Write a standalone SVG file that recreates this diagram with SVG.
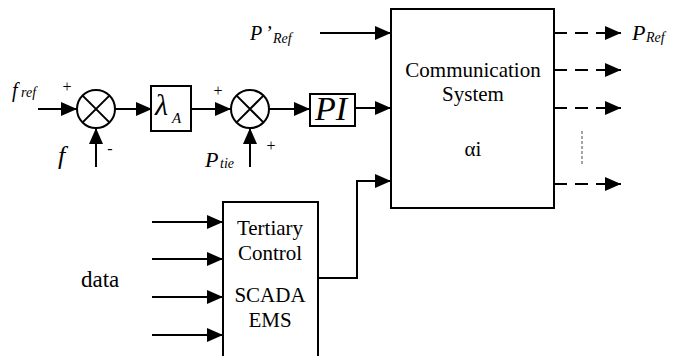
<svg xmlns="http://www.w3.org/2000/svg" width="674" height="356" viewBox="0 0 674 356" font-family="'Liberation Serif', 'DejaVu Serif', serif">
<style>
text{font-family:'Liberation Serif','DejaVu Serif',serif;fill:#000}
.it{font-style:italic}
.box{fill:#fff;stroke:#000;stroke-width:2}
.ln{fill:none;stroke:#000;stroke-width:2}
.dash{fill:none;stroke:#000;stroke-width:2;stroke-dasharray:13 8}
.c{text-anchor:middle}
</style>
<defs>
<marker id="ah" viewBox="0 0 16 14" markerWidth="16" markerHeight="14" refX="16" refY="7" markerUnits="userSpaceOnUse" orient="auto">
<path d="M0,0 L16,7 L0,14 z" fill="#000"/>
</marker>
</defs>
<g id="connectors">
<line class="ln" x1="38" y1="109" x2="77" y2="109" marker-end="url(#ah)"/>
<line class="ln" x1="115" y1="109" x2="152" y2="109" marker-end="url(#ah)"/>
<line class="ln" x1="191" y1="109" x2="231" y2="109" marker-end="url(#ah)"/>
<line class="ln" x1="269" y1="109" x2="310" y2="109" marker-end="url(#ah)"/>
<line class="ln" x1="355" y1="108" x2="391" y2="108" marker-end="url(#ah)"/>
<line class="ln" x1="320" y1="33" x2="391" y2="33" marker-end="url(#ah)"/>
<line class="ln" x1="96" y1="167" x2="96" y2="128" marker-end="url(#ah)"/>
<line class="ln" x1="250" y1="167" x2="250" y2="128" marker-end="url(#ah)"/>
<polyline class="ln" points="318,278 357,278 357,181 391,181" marker-end="url(#ah)"/>
<line class="ln" x1="152" y1="222" x2="223" y2="222" marker-end="url(#ah)"/>
<line class="ln" x1="152" y1="259" x2="223" y2="259" marker-end="url(#ah)"/>
<line class="ln" x1="152" y1="297" x2="223" y2="297" marker-end="url(#ah)"/>
<line class="ln" x1="152" y1="335" x2="223" y2="335" marker-end="url(#ah)"/>
<line class="dash" x1="554" y1="33" x2="621" y2="33" marker-end="url(#ah)"/>
<line class="dash" x1="554" y1="70" x2="621" y2="70" marker-end="url(#ah)"/>
<line class="dash" x1="554" y1="108" x2="621" y2="108" marker-end="url(#ah)"/>
<line class="dash" x1="554" y1="184" x2="621" y2="184" marker-end="url(#ah)"/>
<line x1="582" y1="131" x2="582" y2="165" stroke="#888" stroke-width="1.5" stroke-dasharray="3 2"/>
</g>
<g id="fref">
<text class="it" x="12" y="97" font-size="20">f</text>
<text class="it" x="21" y="97" font-size="14">ref</text>
<text class="c" x="67" y="92" font-size="16">+</text>
</g>
<g id="f">
<text class="it" x="58" y="164" font-size="26">f</text>
<text class="c" x="110" y="154" font-size="16">-</text>
</g>
<g id="sum1">
<circle class="box" cx="96" cy="109" r="19"/>
<path class="ln" d="M82.6,95.6 L109.4,122.4 M109.4,95.6 L82.6,122.4"/>
</g>
<g id="lambda">
<rect class="box" x="151" y="86" width="40" height="45"/>
<text class="it" x="155" y="115" font-size="30">λ</text>
<text class="it" x="172" y="123" font-size="15">A</text>
</g>
<g id="sum2">
<circle class="box" cx="250" cy="109" r="19"/>
<path class="ln" d="M236.6,95.6 L263.4,122.4 M263.4,95.6 L236.6,122.4"/>
<text class="c" x="218" y="96" font-size="16">+</text>
</g>
<g id="ptie">
<text class="it" x="205" y="167" font-size="22">P</text>
<text class="it" x="220" y="168" font-size="14">tie</text>
<text class="c" x="271" y="151" font-size="16">+</text>
</g>
<g id="pi">
<rect class="box" x="310" y="94" width="45" height="32"/>
<text class="it c" x="331" y="120" font-size="34">PI</text>
</g>
<g id="pref-in">
<text class="it" x="250" y="40" font-size="20">P</text>
<text class="it" x="265" y="40" font-size="20">’</text>
<text class="it" x="273" y="43" font-size="14">Ref</text>
</g>
<g id="comm">
<rect class="box" x="391" y="9" width="163" height="199"/>
<text class="c" x="473" y="77" font-size="21">Communication</text>
<text class="c" x="473" y="101" font-size="21">System</text>
<text class="c" x="473" y="156" font-size="21">αi</text>
</g>
<g id="pref-out">
<text class="it" x="632" y="40" font-size="22">P</text>
<text class="it" x="646" y="42" font-size="14">Ref</text>
</g>
<g id="tertiary">
<rect class="box" x="223" y="202" width="95" height="160"/>
<text class="c" x="270" y="235" font-size="21">Tertiary</text>
<text class="c" x="270" y="260" font-size="21">Control</text>
<text class="c" x="270" y="302" font-size="21">SCADA</text>
<text class="c" x="270" y="327" font-size="21">EMS</text>
</g>
<g id="data">
<text x="81" y="287" font-size="23">data</text>
</g>
</svg>
